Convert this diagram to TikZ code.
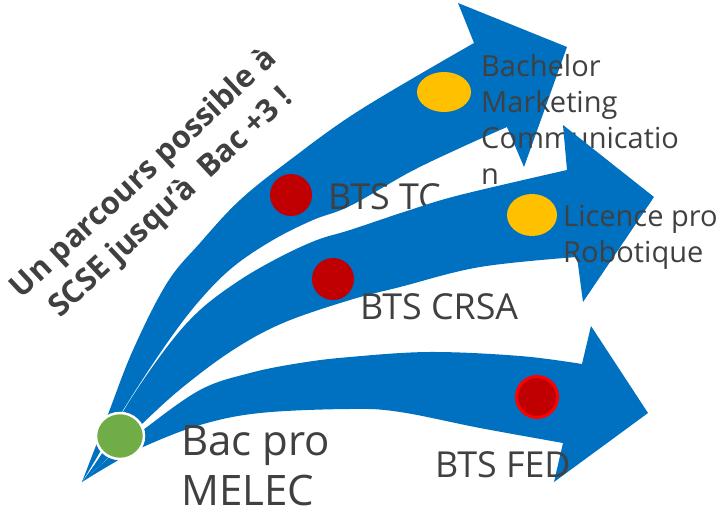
\documentclass[tikz,border=0pt]{standalone}
\usepackage{fontspec}
\setmainfont{Open Sans}
\usetikzlibrary{shapes.geometric}
\definecolor{arrowblue}{HTML}{0070C0}
\definecolor{dotred}{HTML}{C00000}
\definecolor{rimred}{HTML}{FF0000}
\definecolor{dotgold}{HTML}{FFC000}
\definecolor{dotgreen}{HTML}{70AD47}
\definecolor{ink}{HTML}{404040}
\tikzset{
  bigarrow/.style={fill=arrowblue,draw=none},
  reddot/.style={circle,fill=dotred,minimum size=42pt,inner sep=0pt},
  golddot/.style={ellipse,fill=dotgold,inner sep=0pt},
  label/.style={anchor=base west,inner sep=0pt,text=ink,align=left},
  small/.style={label,font=\fontsize{29}{36}\selectfont},
  medium/.style={label,font=\fontsize{35.8}{43}\selectfont},
  large/.style={label,font=\fontsize{42}{50}\selectfont},
  slogan/.style={text=ink,align=center,rotate=43,inner sep=0pt,
    font=\bfseries\fontsize{31}{40}\selectfont}
}
\begin{document}
\begin{tikzpicture}[x=1pt,y=-1pt]
  \useasboundingbox (0,0) rectangle (721,513);
  % arrow towards the bachelor
  \fill[bigarrow] plot[smooth,tension=0.6] coordinates {(82,482) (107,417) (133,350) (167,283) (200,243) (240,200) (290,160) (360,110) (474,43)}
    -- (458,3) -- (567,47) -- (524,167) -- (507,127)
    -- plot[smooth,tension=0.6] coordinates {(507,127) (460,148) (410,172) (350,206) (313,220) (273,240) (233,267) (200,300) (167,343) (125,407) (100,452) (82,482)} -- cycle;
  \node[reddot] (tc) at (291,195) {};
  \node[golddot,minimum width=54pt,minimum height=40pt] (bach) at (444,92) {};
  \node[medium] (tctext) at (328,210) {BTS TC};
  \node[small] (bachtext) at (481,185) {Bachelor\\Marketing\\Communicatio\\n};
  % arrow towards the licence
  \fill[bigarrow] plot[smooth,tension=0.6] coordinates {(82,482) (104,450) (127,405) (167,347) (200,310) (240,280) (280,257) (317,240) (350,230) (410,210) (460,195) (567,170)}
    -- (563,125) -- (654,197) -- (583,302) -- (577,257)
    -- plot[smooth,tension=0.6] coordinates {(577,257) (480,267) (400,287) (350,300) (283,323) (233,350) (183,387) (143,423) (110,456) (82,482)} -- cycle;
  \node[reddot] (crsa) at (333,279) {};
  \node[golddot,minimum width=50pt,minimum height=42pt] (lic) at (532,215) {};
  \node[small] (lictext) at (563,263) {Licence pro\\Robotique};
  \node[medium] (crsatext) at (360,320) {BTS CRSA};
  % arrow towards the FED
  \fill[bigarrow] plot[smooth,tension=0.6] coordinates {(82,482) (112,455) (143,430) (200,390) (250,373) (300,363) (350,357) (430,352) (520,356) (582,364)}
    -- (591,326) -- (648,413) -- (554,482) -- (563,443)
    -- plot[smooth,tension=0.6] coordinates {(563,443) (480,428) (400,412) (350,409) (260,413) (200,425) (143,447) (110,465) (82,482)} -- cycle;
  \node[reddot,draw=rimred,line width=3pt,minimum size=41pt] (fed) at (537,397) {};
  \node[medium] (fedtext) at (435,477) {BTS FED};
  % start point
  \node[ellipse,fill=dotgreen,draw=white,line width=2.5pt,minimum width=48pt,minimum height=46pt,inner sep=0pt] (melec) at (120,436) {};
  \node[large] (melectext) at (181,505) {Bac pro\\MELEC};
  \node[slogan] (title) at (158,189) {Un parcours possible à\\SCSE jusqu’à~ Bac +3 !};
\end{tikzpicture}
\end{document}
